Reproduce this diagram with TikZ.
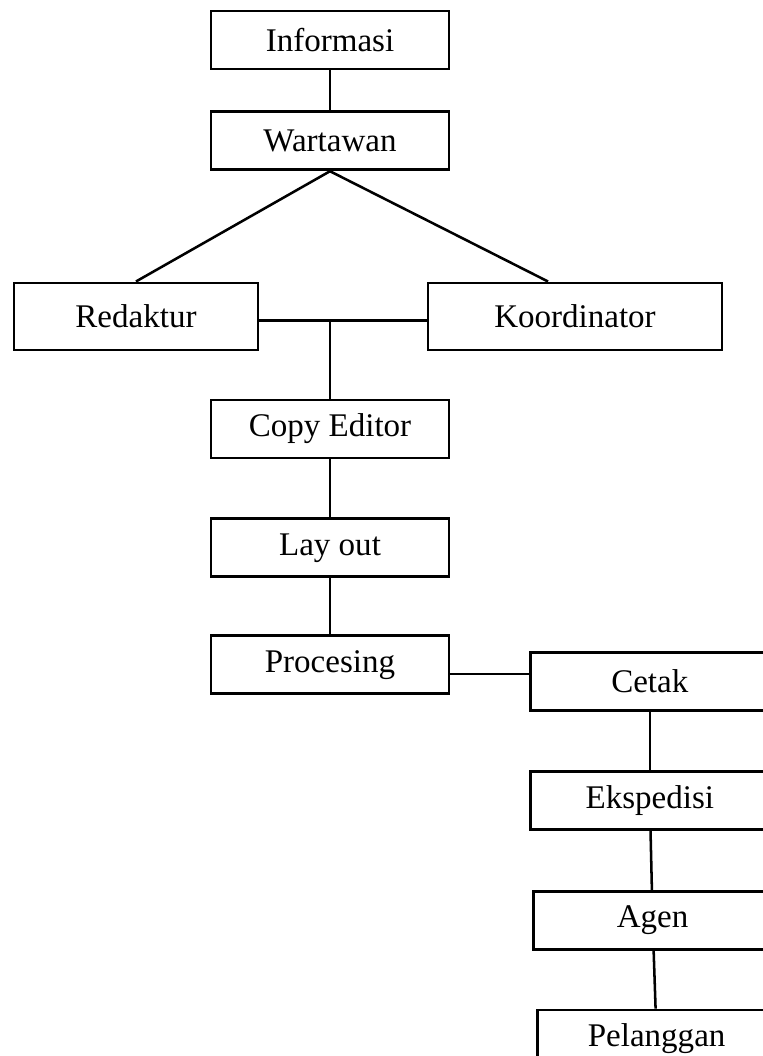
\documentclass[tikz,border=0pt]{standalone}
\usepackage{fontspec}
\setmainfont{Liberation Serif}
\usepackage{tikz}
\usetikzlibrary{positioning,calc}

\begin{document}
\begin{tikzpicture}[node distance=1.45cm,font=\fontsize{23.5}{27}\selectfont]
\tikzstyle{box}=[draw,line width=2pt,minimum width=5.95cm,minimum height=1.45cm,inner sep=0pt]
\tikzstyle{link}=[line width=1.8pt]
\useasboundingbox (0,0) rectangle (19.075,-26.4);
\node[box] (info) at (8.25,-1.0) {Informasi};
\node[box,below=1cm of info] (wart) {Wartawan};
\node[box,minimum width=6.1cm,minimum height=1.675cm] (redak) at (3.4,-7.91) {Redaktur};
\node[box,minimum width=7.35cm,minimum height=1.675cm] (koord) at (14.375,-7.91) {Koordinator};
\node[box] (copy) at (8.25,-10.725) {Copy Editor};
\node[box,below=of copy] (lay) {Lay out};
\node[box,below=1.4cm of lay] (proc) {Procesing};
\node[box,right=1.975cm of proc,yshift=-0.425cm] (cetak) {Cetak};
\node[box,below=of cetak] (eksp) {Ekspedisi};
\node[box,below=1.475cm of eksp,xshift=0.07cm] (agen) {Agen};
\node[box,below=of agen,xshift=0.1cm] (pel) {Pelanggan};
\draw[link] (info) -- (wart);
\draw[link] (wart.south) -- (redak.north);
\draw[link] (wart.south) -- ([xshift=-0.675cm]koord.north);
\coordinate (rk) at ([yshift=-0.1cm]redak.east);
\draw[link] (rk) -- (rk -| koord.west);
\coordinate (mid) at (copy.north |- rk);
\draw[link] (mid) -- (copy);
\draw[link] (copy) -- (lay);
\draw[link] (lay) -- (proc);
\coordinate (pc) at ([yshift=-0.24cm]proc.east);
\draw[link] (pc) -- (pc -| cetak.west);
\draw[link] (cetak) -- (eksp);
\draw[link] (eksp) -- (agen);
\draw[link] (agen) -- (pel);
\end{tikzpicture}
\end{document}
